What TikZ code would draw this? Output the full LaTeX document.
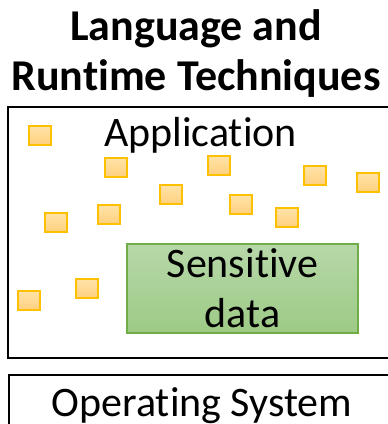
\documentclass[tikz,border=0pt]{standalone}
\usepackage{fontspec}
\setmainfont{Carlito}[Ligatures=NoCommon]
\usepackage{xcolor}
\definecolor{sqedge}{HTML}{FFC000}
\definecolor{sqtop}{HTML}{FFE3A8}
\definecolor{sqbot}{HTML}{FFD080}
\definecolor{sensedge}{HTML}{70AD47}
\definecolor{senstop}{HTML}{B7D8A9}
\definecolor{sensbot}{HTML}{9DCA86}

\tikzset{
  datasq/.style={draw=sqedge,line width=2pt,top color=sqtop,bottom color=sqbot,
    minimum width=22pt,minimum height=19pt,inner sep=0pt},
  layerbox/.style={draw=black,line width=2.2pt},
  bigtext/.style={font=\fontsize{42}{50}\selectfont,inner sep=0pt}
}

\begin{document}
\begin{tikzpicture}[x=1pt,y=-1pt]
\useasboundingbox (0,0) rectangle (388,424);
%\draw[red] (0,0) rectangle (388,424);
\node[bigtext,font=\fontsize{44}{50}\selectfont\bfseries,align=center] (title) at (196,54) {Language and\\Runtime Techniques};

% application layer
\draw[layerbox] (8,107) rectangle (400,358);
\node[bigtext,anchor=base] (app) at (200.5,146) {Application};
\foreach \px/\py [count=\i] in {40/135,115.5/167,219/165,314.5/175.5,367.5/182,170.5/194,
  240.5/204,108.5/214,286.5/217,56/222,29/300.5,87/288.5}
  \node[datasq] (sq\i) at (\px,\py) {};
\node[draw=sensedge,line width=1.8pt,top color=senstop,bottom color=sensbot,
  minimum width=231pt,minimum height=89pt,align=center,
  font=\fontsize{42}{50}\selectfont,inner sep=0pt] (sens) at (242.5,288.5) {Sensitive\\data};

% operating system
\draw[layerbox,line width=1.8pt] (9,375) rectangle (400,440);
\node[bigtext,anchor=base] (os) at (202,416) {Operating System};
\end{tikzpicture}
\end{document}
